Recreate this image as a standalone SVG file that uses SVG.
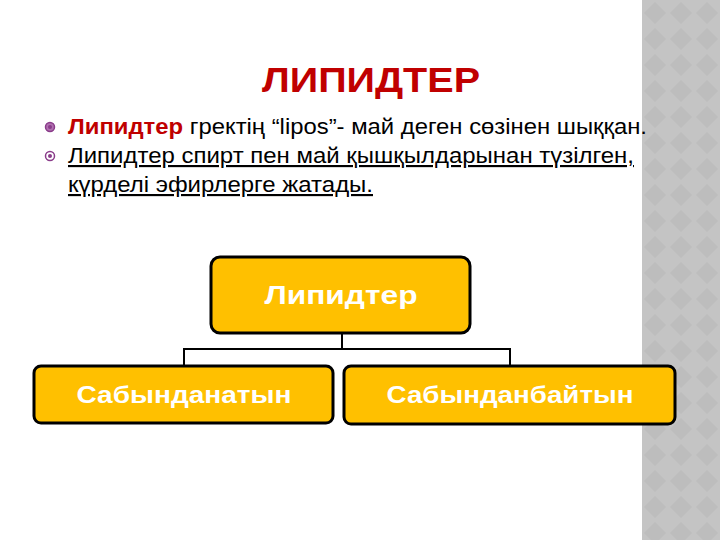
<svg xmlns="http://www.w3.org/2000/svg" width="720" height="540" viewBox="0 0 720 540">
<defs>
<pattern id="dia" x="642" y="0" width="26" height="26" patternUnits="userSpaceOnUse">
<rect width="26" height="26" fill="#c4c4c4"/>
<path d="M13 2 L24 13 L13 24 L2 13 Z" fill="#bdbdbd"/>
</pattern>
<style>
.box{fill:#ffc000;stroke:#000;stroke-width:3}
.bt{font-family:"Liberation Sans",Arial,sans-serif;font-weight:bold;fill:#fff;text-anchor:middle}
.body{font-family:"Liberation Sans",Arial,sans-serif;font-size:21.5px;fill:#000}
.con{fill:none;stroke:#000;stroke-width:2}
</style>
</defs>
<rect width="720" height="540" fill="#fff"/>
<rect x="642" y="0" width="78" height="540" fill="url(#dia)"/>
<text x="371" y="92" font-family="'Liberation Sans',Arial,sans-serif" font-weight="bold" font-size="35" fill="#c00000" text-anchor="middle" textLength="218" lengthAdjust="spacingAndGlyphs">ЛИПИДТЕР</text>
<g id="bullets">
<circle cx="50" cy="127" r="4.5" fill="#b070b0" stroke="#8a3c8a" stroke-width="1.5"/>
<circle cx="50" cy="127" r="2" fill="#8a3c8a"/>
<circle cx="50" cy="156" r="4.5" fill="#fff" stroke="#8a3c8a" stroke-width="1.5"/>
<circle cx="50" cy="156" r="2" fill="#8a3c8a"/>
<text class="body" x="68" y="134" textLength="579" lengthAdjust="spacingAndGlyphs"><tspan font-weight="bold" fill="#c00000">Липидтер</tspan> гректің “lipos”- май деген сөзінен шыққан.</text>
<text class="body" x="68" y="163" text-decoration="underline" textLength="566" lengthAdjust="spacingAndGlyphs">Липидтер спирт пен май қышқылдарынан түзілген,</text>
<text class="body" x="68" y="192" text-decoration="underline" textLength="305" lengthAdjust="spacingAndGlyphs">күрделі эфирлерге жатады.</text>
</g>
<g id="connectors">
<path class="con" d="M342 334 V349 M184 349 H510 M184 348 V366 M510 348 V366"/>
</g>
<g id="node-lipidter">
<rect class="box" x="211" y="257" width="259" height="76" rx="9"/>
<text class="bt" x="341" y="304" font-size="26" textLength="153" lengthAdjust="spacingAndGlyphs">Липидтер</text>
</g>
<g id="node-sabyndanatyn">
<rect class="box" x="34" y="366" width="299" height="57" rx="7"/>
<text class="bt" x="184" y="403" font-size="24" textLength="215" lengthAdjust="spacingAndGlyphs">Сабынданатын</text>
</g>
<g id="node-sabyndanbaityn">
<rect class="box" x="344" y="366" width="331" height="58" rx="7"/>
<text class="bt" x="510" y="403" font-size="24" textLength="247" lengthAdjust="spacingAndGlyphs">Сабынданбайтын</text>
</g>
</svg>
